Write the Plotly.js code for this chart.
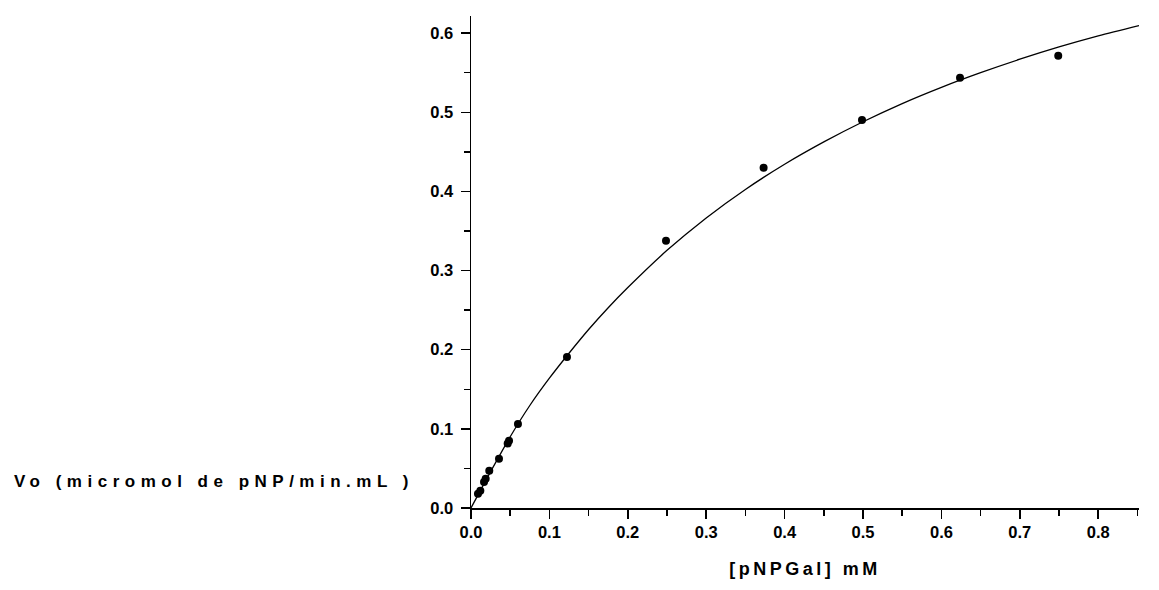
<!DOCTYPE html>
<html>
<head>
<meta charset="utf-8">
<script src="https://cdn.plot.ly/plotly-3.0.1.min.js"></script>
<style>
html, body { margin: 0; padding: 0; background: #fff; }
#chart { width: 1159px; height: 590px; }
.xtitle { letter-spacing: 3.5px; }
.annotation-text { letter-spacing: 5.5px; }
</style>
</head>
<body>
<div id="chart"></div>
<script>
// Measured data points: substrate [pNPGal] (mM) and initial velocity Vo
const substrate = [0.0089, 0.0119, 0.0166, 0.0187, 0.0233, 0.0357, 0.0468, 0.0485, 0.0599,
                   0.1224, 0.2487, 0.3732, 0.4987, 0.6237, 0.749];
const velocity  = [0.0181, 0.0218, 0.0330, 0.0370, 0.0471, 0.0623, 0.0815, 0.0850, 0.1060,
                   0.1907, 0.3375, 0.4300, 0.4903, 0.5437, 0.5715];

// Fitted curve, values
const curveX = [0, 0.025, 0.05, 0.075, 0.10, 0.125, 0.15, 0.175, 0.20, 0.25, 0.30, 0.35,
                0.40, 0.45, 0.50, 0.55, 0.60, 0.65, 0.70, 0.75, 0.80, 0.852];
const curveY = [0, 0.046, 0.090, 0.1295, 0.164, 0.1955, 0.2255, 0.253, 0.2785, 0.3255, 0.3665,
                0.4025, 0.4343, 0.4625, 0.488, 0.511, 0.5315, 0.550, 0.567, 0.5825, 0.5965, 0.6095];

const xTitle = "[pNPGal] mM";
const yTitle = "Vo (micromol de pNP/min.mL )";

const FONT = "Liberation Sans, Arial, sans-serif";

const traces = [
  {
    x: curveX, y: curveY, type: "scatter", mode: "lines",
    line: { color: "#000", width: 1.3, shape: "spline", smoothing: 0.8 },
    hoverinfo: "skip", showlegend: false
  },
  {
    x: substrate, y: velocity, type: "scatter", mode: "markers",
    marker: { color: "#000", size: 8, symbol: "circle" },
    showlegend: false
  }
];

const axisCommon = {
  showgrid: false, zeroline: false, showline: true, linecolor: "#000", linewidth: 1.5,
  ticks: "outside", ticklen: 9, tickwidth: 1.5, tickcolor: "#000",
  tickfont: { family: FONT, size: 16.5, color: "#000", weight: "bold" },
  tickformat: ".1f", dtick: 0.1, tick0: 0
};

const layout = {
  width: 1159, height: 590,
  margin: { l: 471, r: 20, t: 16, b: 82, pad: 0 },
  paper_bgcolor: "#fff", plot_bgcolor: "#fff",
  showlegend: false,
  xaxis: Object.assign({}, axisCommon, {
    range: [0, 0.852],
    minor: { dtick: 0.05, ticks: "outside", ticklen: 6, tickwidth: 1.5, tickcolor: "#000", showgrid: false },
    title: { text: xTitle, font: { family: FONT, size: 18, color: "#000", weight: "bold" }, standoff: 22 }
  }),
  yaxis: Object.assign({}, axisCommon, {
    range: [0, 0.6216],
    ticklabelstandoff: 4,
    minor: { dtick: 0.05, ticks: "outside", ticklen: 6, tickwidth: 1.5, tickcolor: "#000", showgrid: false }
  }),
  annotations: [{
    text: yTitle, xref: "paper", yref: "paper",
    x: (12 - 471) / 668, y: (508 - 481) / 492,
    xanchor: "left", yanchor: "middle", showarrow: false,
    font: { family: FONT, size: 17, color: "#000", weight: "bold" }
  }]
};

Plotly.newPlot("chart", traces, layout, { displayModeBar: false, staticPlot: true });
</script>
</body>
</html>
